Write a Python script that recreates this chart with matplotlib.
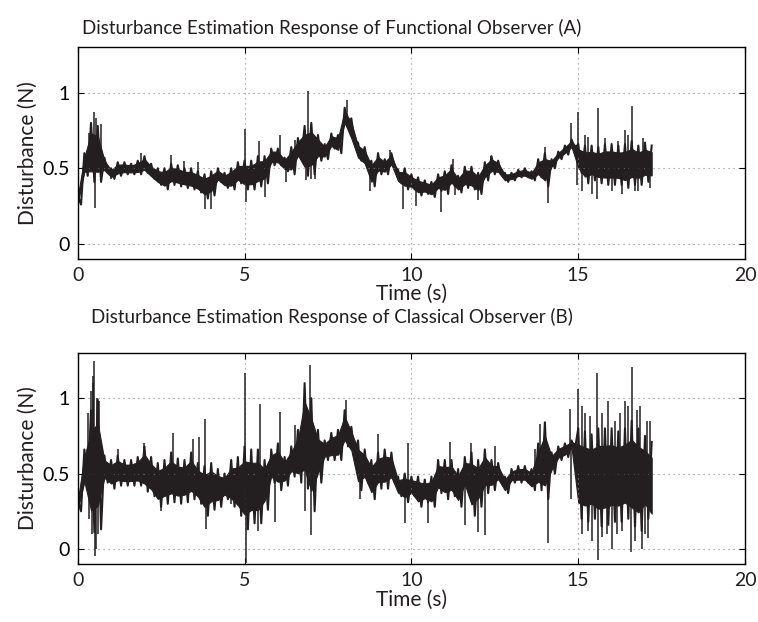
import numpy as np
import matplotlib
matplotlib.use("Agg")
import matplotlib.pyplot as plt

plt.rcParams['font.family'] = ['Lato', 'DejaVu Sans']

# ---------------- data ----------------
t_grid = [round(0.2 * i, 1) for i in range(87)]  # 0.0 .. 17.2 s

a_hi = [0.32, 0.60, 0.80, 0.78, 0.57, 0.50, 0.54, 0.54, 0.53, 0.55,
        0.58, 0.53, 0.50, 0.50, 0.53, 0.52, 0.50, 0.50, 0.48, 0.46,
        0.48, 0.50, 0.47, 0.50, 0.54, 0.55, 0.55, 0.58, 0.58, 0.63,
        0.63, 0.57, 0.64, 0.70, 0.78, 0.80, 0.72, 0.66, 0.73, 0.72,
        0.90, 0.83, 0.67, 0.64, 0.55, 0.60, 0.56, 0.60, 0.49, 0.50,
        0.46, 0.44, 0.42, 0.41, 0.46, 0.48, 0.52, 0.45, 0.51, 0.51,
        0.47, 0.54, 0.58, 0.55, 0.47, 0.47, 0.49, 0.50, 0.48, 0.56,
        0.60, 0.56, 0.61, 0.65, 0.69, 0.66, 0.65, 0.65, 0.64, 0.66,
        0.66, 0.65, 0.66, 0.68, 0.65, 0.67, 0.65]
a_lo = [0.26, 0.45, 0.41, 0.41, 0.47, 0.43, 0.45, 0.46, 0.46, 0.46,
        0.47, 0.43, 0.39, 0.36, 0.39, 0.38, 0.37, 0.36, 0.34, 0.30,
        0.32, 0.41, 0.37, 0.36, 0.40, 0.36, 0.36, 0.38, 0.40, 0.52,
        0.52, 0.48, 0.46, 0.56, 0.45, 0.46, 0.55, 0.56, 0.63, 0.60,
        0.78, 0.67, 0.55, 0.51, 0.38, 0.46, 0.46, 0.51, 0.40, 0.36,
        0.36, 0.32, 0.33, 0.31, 0.35, 0.33, 0.38, 0.34, 0.37, 0.36,
        0.33, 0.42, 0.46, 0.46, 0.41, 0.42, 0.44, 0.44, 0.42, 0.44,
        0.38, 0.50, 0.56, 0.59, 0.63, 0.47, 0.40, 0.42, 0.40, 0.39,
        0.39, 0.39, 0.37, 0.39, 0.39, 0.41, 0.41]
a_spike_t = [0.35, 0.50, 0.52, 0.55, 0.70, 1.00, 1.90, 2.80, 3.20, 3.60,
             3.80, 4.00, 5.00, 5.05, 5.43, 5.60, 6.05, 6.25, 6.50, 6.85,
             6.90, 7.00, 7.10, 8.00, 8.07, 8.75, 9.35, 9.75, 10.15, 10.90,
             11.25, 11.30, 12.00, 12.40, 14.00, 14.10, 14.78, 14.95, 15.00, 15.30,
             15.55, 15.60, 16.00, 16.40, 16.60, 16.80, 17.00,
             15.10, 15.20, 15.40, 15.80, 16.20, 16.30, 16.50, 16.70, 16.95, 17.15]
a_spike_v = [0.73, 0.87, 0.24, 0.83, 0.79, 0.43, 0.60, 0.585, 0.55, 0.54,
             0.23, 0.23, 0.76, 0.28, 0.68, 0.31, 0.72, 0.41, 0.69, 0.42,
             1.01, 0.43, 0.43, 0.88, 0.95, 0.35, 0.62, 0.23, 0.25, 0.21,
             0.56, 0.32, 0.29, 0.58, 0.64, 0.27, 0.80, 0.39, 0.87, 0.71,
             0.30, 0.90, 0.35, 0.75, 0.91, 0.35, 0.59,
             0.35, 0.72, 0.33, 0.70, 0.68, 0.33, 0.72, 0.35, 0.70, 0.37]

b_hi = [0.33, 0.66, 0.92, 0.99, 0.62, 0.59, 0.62, 0.59, 0.59, 0.61,
        0.68, 0.61, 0.57, 0.59, 0.64, 0.60, 0.59, 0.64, 0.57, 0.55,
        0.57, 0.53, 0.50, 0.59, 0.61, 0.68, 0.66, 0.66, 0.59, 0.66,
        0.70, 0.61, 0.68, 0.79, 1.10, 1.00, 0.79, 0.72, 0.77, 0.79,
        0.92, 0.81, 0.72, 0.66, 0.59, 0.64, 0.66, 0.64, 0.48, 0.50,
        0.48, 0.48, 0.46, 0.48, 0.59, 0.59, 0.59, 0.53, 0.61, 0.64,
        0.59, 0.66, 0.59, 0.57, 0.48, 0.53, 0.55, 0.55, 0.53, 0.70,
        0.84, 0.64, 0.68, 0.70, 0.72, 0.80, 0.78, 0.76, 0.80, 0.80,
        0.80, 0.78, 0.80, 0.85, 0.80, 0.75, 0.71]
b_lo = [0.25, 0.40, 0.11, 0.13, 0.44, 0.40, 0.42, 0.42, 0.42, 0.42,
        0.38, 0.35, 0.28, 0.30, 0.31, 0.30, 0.31, 0.33, 0.30, 0.22,
        0.26, 0.28, 0.33, 0.28, 0.22, 0.13, 0.17, 0.17, 0.26, 0.44,
        0.39, 0.42, 0.48, 0.44, 0.40, 0.25, 0.44, 0.59, 0.59, 0.59,
        0.68, 0.62, 0.39, 0.44, 0.33, 0.40, 0.40, 0.44, 0.35, 0.31,
        0.35, 0.28, 0.31, 0.28, 0.37, 0.33, 0.35, 0.28, 0.39, 0.22,
        0.28, 0.37, 0.39, 0.44, 0.37, 0.44, 0.44, 0.44, 0.39, 0.39,
        0.33, 0.50, 0.59, 0.61, 0.66, 0.20, 0.18, 0.20, 0.15, 0.16,
        0.18, 0.18, 0.20, 0.15, 0.12, 0.20, 0.13]
b_spike_t = [0.35, 0.45, 0.50, 0.52, 0.55, 0.60, 1.20, 2.00, 2.50, 2.85,
             3.45, 3.65, 3.82, 3.85, 4.60, 5.02, 5.03, 5.10, 5.40, 5.45,
             5.90, 6.05, 6.50, 6.80, 6.95, 7.00, 8.05, 8.45, 9.00, 9.80,
             9.90, 10.50, 11.15, 11.60, 11.80, 12.00, 12.20, 12.50, 13.70, 13.85,
             14.00, 14.10, 14.75, 14.77, 15.00, 15.20, 15.40, 15.55, 15.60, 15.90,
             16.00, 16.40, 16.58, 16.60, 16.85, 16.90, 17.10, 17.15,
             0.30, 0.40, 0.42, 0.47, 0.57, 0.62, 0.65,
             15.10, 15.12, 15.30, 15.35, 15.70, 15.72, 15.85, 16.10, 16.15, 16.25,
             16.30, 16.50, 16.70, 16.75, 17.00, 17.05]
b_spike_v = [0.20, 1.10, 1.245, -0.05, 0.00, 0.98, 0.66, 0.70, 0.25, 0.77,
             0.73, 0.74, 0.86, 0.13, 0.30, 1.17, -0.09, 0.15, 0.12, 0.96,
             0.18, 0.91, 0.82, 0.25, 1.22, 0.09, 0.99, 0.33, 0.76, 0.17,
             0.70, 0.17, 0.71, 0.16, 0.70, 0.11, 0.09, 0.68, 0.66, 0.83,
             0.84, 0.04, 0.93, 0.33, 1.06, 0.90, 0.05, 1.17, -0.07, 0.98,
             0.00, 0.98, -0.02, 1.21, 0.95, 0.00, 0.07, 0.85,
             0.90, 1.05, 0.10, 1.15, 1.00, 0.10, 0.98,
             0.10, 0.95, 0.12, 0.88, 0.08, 0.90, 0.10, 0.85, 0.10, 0.90,
             0.12, 0.95, 0.05, 0.92, 0.10, 0.85]

titles = ["Disturbance Estimation Response of Functional Observer (A)",
          "Disturbance Estimation Response of Classical Observer (B)"]
x_ticks = [0, 5, 10, 15, 20]
y_ticks = [0, 0.5, 1]
y_tick_labels = ["0", "0.5", "1"]

# ---------------- figure ----------------
fig = plt.figure(figsize=(7.58, 6.22), dpi=100)
axA = fig.add_axes([0.1025, 0.5836, 0.8805, 0.3404])
axB = fig.add_axes([0.1025, 0.0932, 0.8805, 0.3393])

col = '#231f20'
panels = [(axA, a_hi, a_lo, a_spike_t, a_spike_v),
          (axB, b_hi, b_lo, b_spike_t, b_spike_v)]
title_y = [0.955, 0.490]
for (ax, hi, lo, st, sv), ty, title in zip(panels, title_y, titles):
    t = np.array(t_grid)
    hi = np.array(hi); lo = np.array(lo)
    # dense core of the noisy trace
    span = hi - lo
    ax.fill_between(t, lo + 0.18 * span, hi - 0.18 * span, color=col,
                    linewidth=0.8, edgecolor=col)
    # trace swinging between the upper and lower readings
    zt = np.ravel(np.column_stack([t, t + 0.1]))[:-1]
    zv = np.ravel(np.column_stack([hi, lo]))[:-1]
    ax.plot(zt, zv, color=col, linewidth=1.5)
    mid = (hi + lo) / 2
    base = np.interp(st, t, mid)
    ax.vlines(st, base, sv, color=col, linewidth=1.1)
    ax.set_xlim(0, 20)
    ax.set_ylim(-0.1, 1.3)
    ax.set_xticks(x_ticks)
    ax.set_yticks(y_ticks)
    ax.set_yticklabels(y_tick_labels)
    ax.grid(True, color='#888888', linestyle=(0, (1, 3.5)), linewidth=0.8)
    ax.tick_params(direction='in', top=True, right=True, length=4,
                   labelsize=14, pad=6, colors='black')
    ax.tick_params(axis='x', labelcolor='#231f20')
    for s in ax.spines.values():
        s.set_linewidth(1.0)
    ax.set_xlabel("Time (s)", fontsize=15, labelpad=0, color=col)
    ax.set_ylabel("Disturbance (N)", fontsize=15, labelpad=3, color=col)
    fig.text(0.438, ty, title, fontsize=13.5, ha='center', va='center', color=col)

fig.savefig("out.png", dpi=100)
